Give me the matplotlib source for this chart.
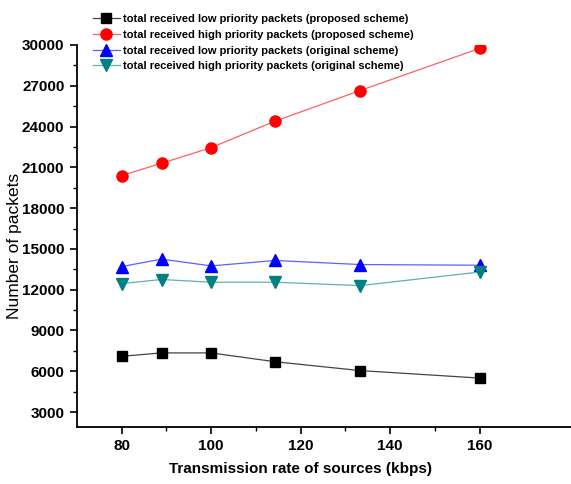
import matplotlib
matplotlib.use("Agg")
import matplotlib.pyplot as plt
from matplotlib.ticker import MultipleLocator, FixedLocator

plt.rcParams['font.family'] = ['Liberation Sans', 'DejaVu Sans']

rates = [80, 88.9, 100, 114.3, 133.3, 160]
low_proposed = [7100, 7350, 7350, 6700, 6050, 5500]
high_proposed = [20400, 21300, 22450, 24400, 26650, 29750]
low_original = [13700, 14250, 13750, 14150, 13850, 13800]
high_original = [12450, 12750, 12550, 12550, 12300, 13300]

labels = [
    "total received low priority packets (proposed scheme)",
    "total received high priority packets (proposed scheme)",
    "total received low priority packets (original scheme)",
    "total received high priority packets (original scheme)",
]

x_ticks = [80, 100, 120, 140, 160]
x_minor = [90, 110, 130, 150]
y_ticks = [3000, 6000, 9000, 12000, 15000, 18000, 21000, 24000, 27000, 30000]

W, H = 571, 484
fig = plt.figure(figsize=(W / 100, H / 100), dpi=100)
ax = fig.add_axes([77 / W, 1 - 427 / H, 1 - 77 / W + 0.02, (427 - 45) / H])

ax.plot(rates, low_proposed, color='#444444', lw=0.9, marker='s', ms=7,
        mfc='black', mec='black', label=labels[0])
ax.plot(rates, high_proposed, color='#ff6060', lw=0.9, marker='o', ms=8,
        mfc='#ff0000', mec='#ff0000', label=labels[1])
ax.plot(rates, low_original, color='#6060ff', lw=0.9, marker='^', ms=8,
        mfc='#0000ff', mec='#0000ff', label=labels[2])
ax.plot(rates, high_original, color='#60b0b0', lw=0.9, marker='v', ms=8,
        mfc='#008080', mec='#008080', label=labels[3])

ax.set_xlim(70, 183)
ax.set_ylim(1900, 30000)
ax.set_xticks(x_ticks)
ax.xaxis.set_minor_locator(FixedLocator(x_minor))
ax.set_yticks(y_ticks)
ax.yaxis.set_minor_locator(MultipleLocator(1500))

for s in ['top', 'right']:
    ax.spines[s].set_visible(False)
for s in ['left', 'bottom']:
    ax.spines[s].set_linewidth(1.3)

ax.tick_params(which='major', direction='out', length=5, width=1.2, labelsize=11, pad=4)
ax.tick_params(which='minor', direction='out', length=3, width=1.0)
for lab in ax.get_xticklabels() + ax.get_yticklabels():
    lab.set_fontweight('bold')

ax.set_xlabel("Transmission rate of sources (kbps)", fontsize=11, fontweight='bold')
ax.xaxis.set_label_coords((300 - 77) / 505, (427 - 462) / 382)
ax.set_ylabel("Number of packets", fontsize=12.5)
ax.yaxis.set_label_coords((22 - 77) / 505, (427 - 246) / 382)

leg = fig.legend(*ax.get_legend_handles_labels(), loc='upper left',
                 bbox_to_anchor=(93 / W, 1 - 14 / H), frameon=False,
                 prop={'weight': 'bold', 'size': 8.0},
                 handlelength=2.4, handletextpad=0.3, labelspacing=0.52,
                 borderpad=0, borderaxespad=0)

fig.savefig("out.png", dpi=100)
